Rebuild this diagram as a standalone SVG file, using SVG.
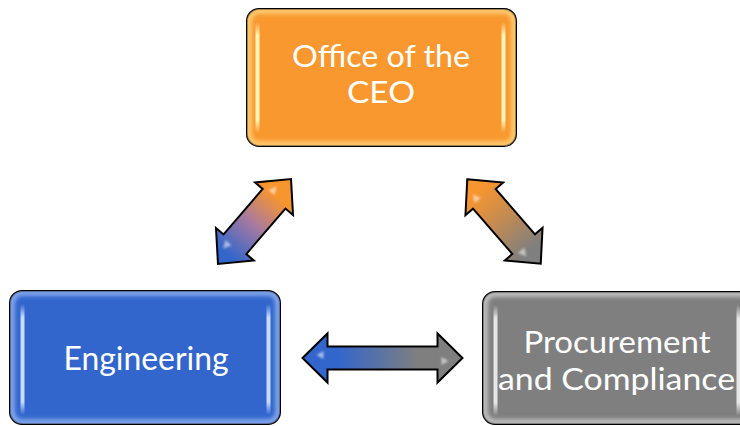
<svg xmlns="http://www.w3.org/2000/svg" width="740" height="426" viewBox="0 0 740 426">
<defs>
<style>
.box{stroke:#000;stroke-width:2}
.rim{fill:none;stroke-width:5;filter:url(#blur2)}
.lbl{font-family:Lato,"Open Sans","Liberation Sans",sans-serif;fill:#fff;text-anchor:middle}
.arrow{stroke:#000;stroke-width:2;stroke-linejoin:miter}
.glint{fill:#fff;opacity:0.55;filter:url(#blur1)}
</style>
<filter id="blur1" x="-50%" y="-50%" width="200%" height="200%"><feGaussianBlur stdDeviation="0.8"/></filter>
<filter id="blur2" x="-10%" y="-10%" width="120%" height="120%"><feGaussianBlur stdDeviation="2"/></filter>
<linearGradient id="stripeO" x1="0" y1="0" x2="0" y2="1"><stop offset="0" stop-color="#FFF6B8" stop-opacity="0"/><stop offset="0.12" stop-color="#FFF6B8"/><stop offset="0.88" stop-color="#FFF6B8"/><stop offset="1" stop-color="#FFF6B8" stop-opacity="0"/></linearGradient>
<linearGradient id="stripeB" x1="0" y1="0" x2="0" y2="1"><stop offset="0" stop-color="#C8DCFF" stop-opacity="0"/><stop offset="0.12" stop-color="#C8DCFF"/><stop offset="0.88" stop-color="#C8DCFF"/><stop offset="1" stop-color="#C8DCFF" stop-opacity="0"/></linearGradient>
<linearGradient id="stripeG" x1="0" y1="0" x2="0" y2="1"><stop offset="0" stop-color="#E6E6E6" stop-opacity="0"/><stop offset="0.12" stop-color="#E6E6E6"/><stop offset="0.88" stop-color="#E6E6E6"/><stop offset="1" stop-color="#E6E6E6" stop-opacity="0"/></linearGradient>
<linearGradient id="gBO" gradientUnits="userSpaceOnUse" x1="-56" y1="0" x2="56" y2="0"><stop offset="0.12" stop-color="#3366CC"/><stop offset="0.48" stop-color="#A87A9E"/><stop offset="0.8" stop-color="#F7952F"/></linearGradient>
<linearGradient id="gOG" gradientUnits="userSpaceOnUse" x1="-56" y1="0" x2="56" y2="0"><stop offset="0.15" stop-color="#F7952F"/><stop offset="0.5" stop-color="#BE8A55"/><stop offset="0.85" stop-color="#7F7F7F"/></linearGradient>
<linearGradient id="gBG" gradientUnits="userSpaceOnUse" x1="-80" y1="0" x2="80" y2="0"><stop offset="0.22" stop-color="#3366CC"/><stop offset="0.72" stop-color="#7F7F7F"/></linearGradient>
<clipPath id="cCeo"><rect x="247" y="9" width="269" height="137" rx="12"/></clipPath>
<clipPath id="cEng"><rect x="10" y="291" width="270" height="133" rx="12"/></clipPath>
<clipPath id="cPro"><rect x="483" y="292" width="270" height="132" rx="12"/></clipPath>
</defs>

<g id="connectors">
<g transform="translate(254.5,221.5) rotate(-49.3)">
<path class="arrow" fill="url(#gBO)" d="M-56,0 L-30,-25 L-30,-15 L30,-15 L30,-25 L56,0 L30,25 L30,15 L-30,15 L-30,25 Z"/>
<path class="glint" d="M41,-6 L33,-10 L33,-2 Z"/>
<path class="glint" d="M-41,-6 L-33,-10 L-33,-2 Z"/>
</g>
<g transform="translate(504,221.5) rotate(49)">
<path class="arrow" fill="url(#gOG)" d="M-56,0 L-30,-25 L-30,-15 L30,-15 L30,-25 L56,0 L30,25 L30,15 L-30,15 L-30,25 Z"/>
<path class="glint" d="M-41,6 L-33,2 L-33,10 Z"/>
<path class="glint" d="M41,6 L33,2 L33,10 Z"/>
</g>
<g transform="translate(382.5,358)">
<path class="arrow" fill="url(#gBG)" d="M-80,0 L-55,-24.5 L-55,-11.5 L55,-11.5 L55,-24.5 L80,0 L55,24.5 L55,11.5 L-55,11.5 L-55,24.5 Z"/>
<path class="glint" d="M-66,-3 L-59,-7 L-59,1 Z"/>
<path class="glint" d="M66,3 L59,-1 L59,7 Z"/>
</g>
</g>

<g id="ceo">
<rect class="box" x="247" y="9" width="269" height="137" rx="12" fill="#F8982F"/>
<rect class="rim" x="249" y="11" width="265" height="133" rx="10" stroke="#FFD27A" clip-path="url(#cCeo)"/>
<rect x="255.5" y="22" width="4" height="111" rx="2" fill="url(#stripeO)"/>
<rect x="501.5" y="22" width="4" height="111" rx="2" fill="url(#stripeO)"/>
<text class="lbl" font-size="30" x="381" y="67" textLength="178" lengthAdjust="spacingAndGlyphs">Office of the</text>
<text class="lbl" font-size="30" x="381" y="102.5" textLength="68" lengthAdjust="spacingAndGlyphs">CEO</text>
</g>

<g id="engineering">
<rect class="box" x="10" y="291" width="270" height="133" rx="12" fill="#3366CC"/>
<rect class="rim" x="12" y="293" width="266" height="129" rx="10" stroke="#8FB0F0" clip-path="url(#cEng)"/>
<rect x="20.5" y="304" width="4" height="111" rx="2" fill="url(#stripeB)"/>
<rect x="266.5" y="304" width="4" height="111" rx="2" fill="url(#stripeB)"/>
<text class="lbl" font-size="32" x="146" y="369.5" textLength="165" lengthAdjust="spacingAndGlyphs">Engineering</text>
</g>

<g id="procurement">
<rect class="box" x="483" y="292" width="270" height="132" rx="12" fill="#7F7F7F"/>
<rect class="rim" x="485" y="294" width="266" height="128" rx="10" stroke="#C8C8C8" clip-path="url(#cPro)"/>
<rect x="493.5" y="305" width="4" height="111" rx="2" fill="url(#stripeG)"/>
<rect x="736.5" y="305" width="4" height="111" rx="2" fill="url(#stripeG)"/>
<text class="lbl" font-size="30" x="617" y="353" textLength="187" lengthAdjust="spacingAndGlyphs">Procurement</text>
<text class="lbl" font-size="30" x="616.5" y="390" textLength="237" lengthAdjust="spacingAndGlyphs">and Compliance</text>
</g>
</svg>
